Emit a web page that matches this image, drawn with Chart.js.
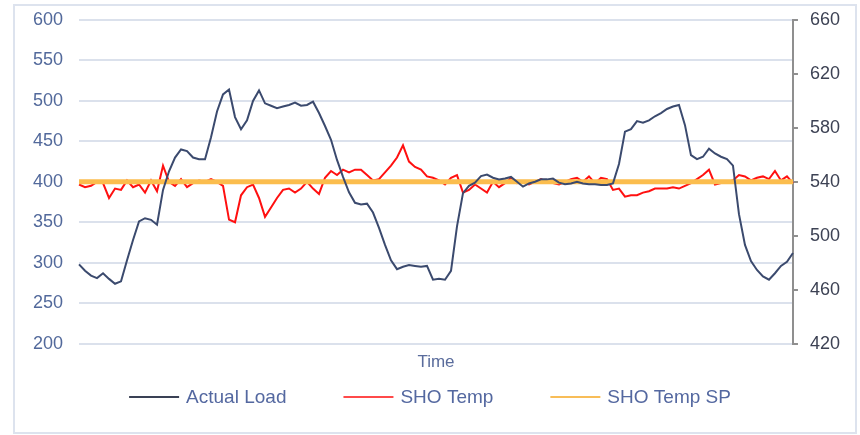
<!DOCTYPE html>
<html>
<head>
<meta charset="utf-8">
<script src="https://cdn.jsdelivr.net/npm/chart.js@4.4.1/dist/chart.umd.min.js"></script>
<style>
  html, body { margin: 0; padding: 0; background: #fff; }
  #wrap { position: relative; width: 860px; height: 435px; }
  #card { position: absolute; left: 13px; top: 4px; width: 840px; height: 426px; border: 2px solid #dde3ee; box-sizing: content-box; }
  canvas { position: absolute; left: 0; top: 0; }
</style>
</head>
<body>
<div id="wrap">
  <div id="card"></div>
  <canvas id="chart" width="860" height="435"></canvas>
</div>
<script>
// Actual Load (left axis)
const loadValues = [
  298, 290, 284, 281, 287, 280, 274, 277, 303, 328,
  351, 355, 353, 347, 390, 413, 430, 440, 438, 430,
  428, 428, 455, 487, 508, 514, 480, 465, 476, 500,
  513, 497, 494, 491, 493, 495, 498, 494, 495, 499,
  485, 469, 452, 427, 406, 387, 374, 372, 373, 362,
  343, 322, 303, 292, 295, 297, 296, 295, 296, 279,
  280, 279, 290, 345, 386, 395, 399, 407, 409, 405,
  403, 404, 406, 400, 394, 398, 400, 403, 403, 404,
  399, 397, 398, 400, 398, 397, 397, 396, 396, 398,
  422, 462, 465, 475, 473, 476, 481, 485, 490, 493,
  495, 470, 433, 428, 431, 441, 435, 431, 428, 420,
  360, 322, 302, 291, 283, 279, 287, 296, 301, 312
];

// SHO Temp (right axis)
const shoTemp = [
  538, 536, 537, 540, 539, 528, 535, 534, 541, 536,
  538, 532, 541, 533, 552, 540, 537, 542, 536, 539,
  541, 540, 542, 540, 537, 512, 510, 530, 536, 538,
  528, 514, 521, 528, 534, 535, 532, 535, 540, 535,
  531, 543, 548, 545, 549, 547, 549, 549, 545, 541,
  542, 547, 552, 558, 567, 555, 551, 549, 544, 543,
  541, 538, 543, 545, 532, 534, 538, 535, 532, 540,
  536, 539, 543, 539, 540, 538, 540, 542, 540, 539,
  538, 540, 542, 543, 540, 544, 539, 543, 542, 534,
  535, 529, 530, 530, 532, 533, 535, 535, 535, 536,
  535, 537, 539, 542, 545, 549, 538, 539, 540, 541,
  545, 544, 541, 543, 544, 542, 548, 541, 544, 539
];

// SHO Temp SP (right axis)
const shoTempSP = shoTemp.map(() => 540);

const timeLabels = loadValues.map((_, i) => i + 1);

const leftTicks = { min: 200, max: 600, step: 50 };
const rightTicks = { min: 420, max: 660, step: 40 };

const FONT = '"Liberation Sans", Arial, sans-serif';

// keep tick label overhang from pushing the plot down
const noOverhang = scale => { scale.paddingTop = 0; scale.paddingBottom = 0; };

// legend spread out under the axis title
const bottomLegend = {
  id: 'bottomLegend',
  afterDraw(chart) {
    const ctx = chart.ctx;
    const y = chart.height - 38;
    const lineLen = 50, textGap = 7, gap = 57;
    ctx.save();
    ctx.font = '19px ' + FONT;
    const items = chart.data.datasets.map(ds => ({
      text: ds.label,
      color: ds.legendColor,
      w: lineLen + textGap + ctx.measureText(ds.label).width
    }));
    const total = items.reduce((s, it) => s + it.w, 0) + gap * (items.length - 1);
    let x = chart.width / 2 - total / 2;
    items.forEach(it => {
      ctx.strokeStyle = it.color;
      ctx.lineWidth = 2;
      ctx.beginPath();
      ctx.moveTo(x, y);
      ctx.lineTo(x + lineLen, y);
      ctx.stroke();
      ctx.fillStyle = '#5468a0';
      ctx.textBaseline = 'middle';
      ctx.fillText(it.text, x + lineLen + textGap, y + 1);
      x += it.w + gap;
    });
    ctx.restore();
  }
};

new Chart(document.getElementById('chart').getContext('2d'), {
  type: 'line',
  data: {
    labels: timeLabels,
    datasets: [
      {
        label: 'Actual Load',
        data: loadValues,
        yAxisID: 'y',
        borderColor: '#3b4a6e',
        legendColor: '#3a4155',
        borderWidth: 2,
        pointRadius: 0,
        tension: 0,
        order: 1
      },
      {
        label: 'SHO Temp',
        data: shoTemp,
        yAxisID: 'y1',
        borderColor: '#ff1010',
        legendColor: '#ff4a4a',
        borderWidth: 2,
        pointRadius: 0,
        tension: 0,
        order: 3
      },
      {
        label: 'SHO Temp SP',
        data: shoTempSP,
        yAxisID: 'y1',
        borderColor: '#fbbd4e',
        legendColor: '#f8bd58',
        borderWidth: 5,
        pointRadius: 0,
        tension: 0,
        order: 2
      }
    ]
  },
  options: {
    responsive: false,
    animation: false,
    devicePixelRatio: 1,
    layout: { padding: { left: 17, right: 8, top: 20, bottom: 57 } },
    plugins: {
      legend: { display: false },
      tooltip: { enabled: false }
    },
    scales: {
      x: {
        type: 'category',
        offset: false,
        ticks: { display: false },
        grid: { display: false, drawTicks: false },
        border: { display: false },
        title: {
          display: true,
          text: 'Time',
          color: '#5a6c9c',
          font: { family: FONT, size: 17 },
          padding: { top: 9, bottom: 5 }
        }
      },
      y: {
        position: 'left',
        min: leftTicks.min,
        max: leftTicks.max,
        afterFit: noOverhang,
        ticks: {
          stepSize: leftTicks.step,
          color: '#52699b',
          font: { family: FONT, size: 18 },
          padding: 16
        },
        grid: { color: '#dbe1ec', lineWidth: 2, drawTicks: false },
        border: { display: false }
      },
      y1: {
        position: 'right',
        min: rightTicks.min,
        max: rightTicks.max,
        afterFit: noOverhang,
        ticks: {
          stepSize: rightTicks.step,
          color: '#3d4254',
          font: { family: FONT, size: 18 },
          padding: 12
        },
        grid: { drawOnChartArea: false, drawTicks: true, tickLength: 5, color: '#8f8f8f', lineWidth: 2 },
        border: { display: true, color: '#8f8f8f', width: 2 }
      }
    }
  },
  plugins: [bottomLegend]
});
</script>
</body>
</html>
